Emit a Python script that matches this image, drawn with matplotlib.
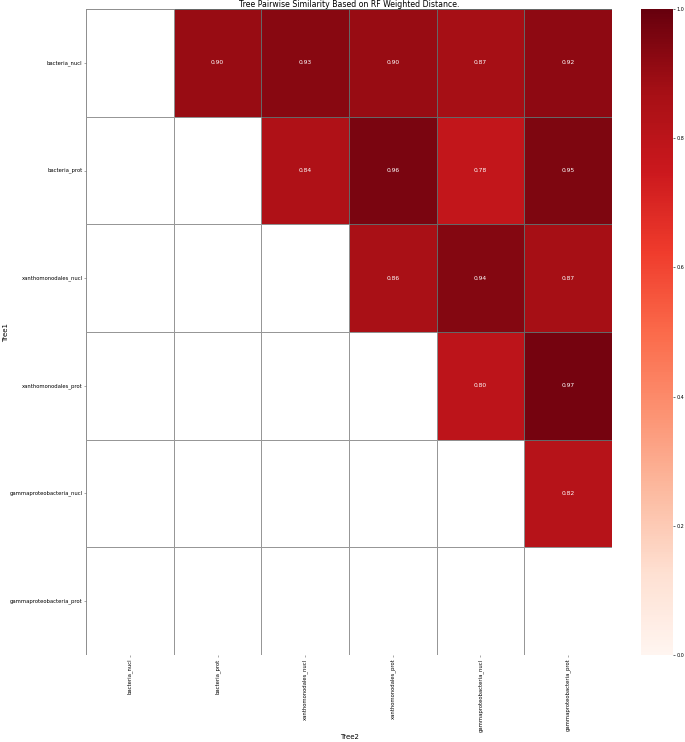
import matplotlib
matplotlib.use("Agg")
import matplotlib.pyplot as plt
import numpy as np
import pandas as pd
import seaborn as sns

trees = ["bacteria_nucl", "bacteria_prot", "xanthomonodales_nucl",
         "xanthomonodales_prot", "gammaproteobacteria_nucl",
         "gammaproteobacteria_prot"]

# upper-triangle similarities, row by row
row_bacteria_nucl = [0.90, 0.93, 0.90, 0.87, 0.92]
row_bacteria_prot = [0.84, 0.96, 0.78, 0.95]
row_xantho_nucl = [0.86, 0.94, 0.87]
row_xantho_prot = [0.80, 0.97]
row_gamma_nucl = [0.82]

rows = [row_bacteria_nucl, row_bacteria_prot, row_xantho_nucl,
        row_xantho_prot, row_gamma_nucl]

n = len(trees)
sim = np.ones((n, n))
for i, r in enumerate(rows):
    for k, v in enumerate(r):
        sim[i, i + 1 + k] = v
        sim[i + 1 + k, i] = v
df = pd.DataFrame(sim, index=trees, columns=trees)

mask = np.tril(np.ones_like(sim, dtype=bool))

fig = plt.figure(figsize=(6.85, 7.42), dpi=100)
ax = fig.add_axes([86 / 685, 1 - 655 / 742, (612 - 86) / 685, (655 - 9) / 742])
cax = fig.add_axes([641 / 685, 1 - 655 / 742, (673 - 641) / 685, (655 - 9) / 742])

sns.heatmap(df, mask=mask, cmap="Reds", vmin=0, vmax=1, annot=True, fmt=".2f",
            annot_kws={"fontsize": 4.3}, linewidths=0.5, linecolor="#666666",
            ax=ax, cbar_ax=cax)

# draw borders for the masked cells too
for i in range(n):
    for j in range(n):
        if mask[i, j]:
            ax.add_patch(plt.Rectangle((j, i), 1, 1, fill=False,
                                       edgecolor="#999999", lw=0.6))

ax.set_title("Tree Pairwise Similarity Based on RF Weighted Distance.",
             fontsize=5.6, pad=0.3)
ax.set_xlabel("Tree2", fontsize=5)
ax.set_ylabel("Tree1", fontsize=5)
ax.xaxis.set_label_coords(0.5, -0.122)
ax.yaxis.set_label_coords(-0.146, 0.5)
ax.tick_params(axis="both", labelsize=3.8, length=1.5, width=0.4, pad=1,
               color="#666666")
plt.setp(ax.get_xticklabels(), rotation=90)
plt.setp(ax.get_yticklabels(), rotation=0)

cax.set_yticks([0.0, 0.2, 0.4, 0.6, 0.8, 1.0])
cax.set_yticklabels(["0.0", "0.2", "0.4", "0.6", "0.8", "1.0"])
cax.tick_params(labelsize=3.5, length=1.5, width=0.4, pad=1)

fig.savefig("out.png", dpi=100)
